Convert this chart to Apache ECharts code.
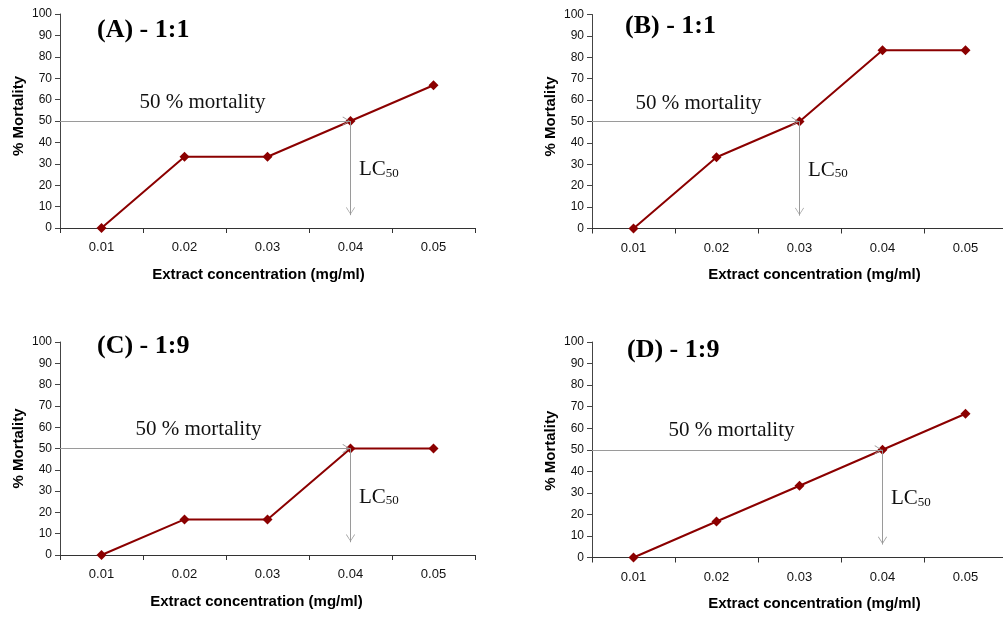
<!DOCTYPE html>
<html>
<head>
<meta charset="utf-8">
<script src="https://cdn.jsdelivr.net/npm/echarts@6/dist/echarts.min.js"></script>
<style>
html, body { margin: 0; padding: 0; background: #fff; }
#main { width: 1003px; height: 617px; }
</style>
</head>
<body>
<div id="main"></div>
<script>
// concentrations (mg/ml) and mortality (%)
var concLabels = ['0.01', '0.02', '0.03', '0.04', '0.05'];
var concValues = [0.01, 0.02, 0.03, 0.04, 0.05];
var mortalityA = [0, 33.3, 33.3, 50, 66.7];
var mortalityB = [0, 33.3, 50, 83.3, 83.3];
var mortalityC = [0, 16.7, 16.7, 50, 50];
var mortalityD = [0, 16.7, 33.3, 50, 66.7];
var panelTitles = ['(A) - 1:1', '(B) - 1:1', '(C) - 1:9', '(D) - 1:9'];
var lc50Conc = [0.04, 0.03, 0.04, 0.04];
var lc50Level = 50;
var arrowBottom = 6;

var panels = [mortalityA, mortalityB, mortalityC, mortalityD];

// layout of each panel (pixels)
var layout = [
    { grid: { left: 60, top: 14, width: 415, height: 214 }, title: [97, 17], textDx: 80, textDy: -18, nameShift: -9, yShift: 5 },
    { grid: { left: 592, top: 14.5, width: 415, height: 214 }, title: [625, 13], textDx: 44, textDy: -18, nameShift: 15, yShift: 5 },
    { grid: { left: 60, top: 342, width: 415, height: 213 }, title: [97, 333], textDx: 76, textDy: -19, nameShift: -11, yShift: 0 },
    { grid: { left: 592, top: 342, width: 415, height: 215.5 }, title: [627, 337], textDx: 77, textDy: -19, nameShift: 15, yShift: -1 }
];

var sans = '"Liberation Sans", Arial, sans-serif';
var serif = '"Liberation Serif", "Times New Roman", serif';
var lineColor = '#8b0000';
var arrowColor = '#9a9a9a';
// open arrow head, tip at the centre of its box
var arrowHead = 'path://M5,0L5,0.01M5,10L10,18L9.3,18.5L5,11.3L0.7,18.5L0,18Z';

var grids = [], xAxes = [], yAxes = [], titles = [], series = [];

function shiftPad(s) {
    return s > 0 ? [0, 0, 0, 2 * s] : [0, -2 * s, 0, 0];
}

panels.forEach(function (vals, i) {
    var L = layout[i];
    var g = L.grid;
    grids.push({ left: g.left, top: g.top, width: g.width, height: g.height, outerBoundsMode: 'none', containLabel: false });

    titles.push({
        text: panelTitles[i],
        left: L.title[0],
        top: L.title[1],
        padding: 0,
        textStyle: { fontFamily: serif, fontSize: 26, fontWeight: 'bold', color: '#000' }
    });

    // visible category axis (labels + ticks between bands)
    xAxes.push({
        type: 'category',
        gridIndex: i,
        data: concLabels,
        boundaryGap: true,
        name: 'Extract concentration (mg/ml)',
        nameLocation: 'middle',
        nameGap: 39,
        nameTextStyle: {
            fontFamily: sans, fontSize: 15, fontWeight: 'bold', color: '#000',
            padding: shiftPad(L.nameShift)
        },
        axisLine: { lineStyle: { color: '#333', width: 1 } },
        axisTick: { show: true, alignWithLabel: false, interval: 0, length: 5, lineStyle: { color: '#333' } },
        axisLabel: { fontFamily: sans, fontSize: 13, color: '#111', margin: 13, interval: 0 },
        splitLine: { show: false }
    });
    // hidden value axis used to place the points and arrows
    xAxes.push({
        type: 'value',
        gridIndex: i,
        show: false,
        min: 0.005,
        max: 0.055,
        splitLine: { show: false }
    });

    yAxes.push({
        type: 'value',
        gridIndex: i,
        min: 0,
        max: 100,
        interval: 10,
        name: '% Mortality',
        nameLocation: 'middle',
        nameGap: 34,
        nameTextStyle: {
            fontFamily: sans, fontSize: 15, fontWeight: 'bold', color: '#000',
            padding: shiftPad(L.yShift)
        },
        axisLine: { show: true, lineStyle: { color: '#444', width: 1 } },
        axisTick: { show: true, length: 5, lineStyle: { color: '#444' } },
        axisLabel: { fontFamily: sans, fontSize: 12, color: '#111', margin: 8 },
        splitLine: { show: false }
    });

    var lcX = lc50Conc[i];
    series.push({
        type: 'line',
        xAxisIndex: 2 * i + 1,
        yAxisIndex: i,
        data: concValues.map(function (c, j) { return [c, vals[j]]; }),
        symbol: 'diamond',
        symbolSize: 10,
        lineStyle: { color: lineColor, width: 2 },
        itemStyle: { color: lineColor },
        z: 3,
        markLine: {
            silent: true,
            symbol: ['none', arrowHead],
            symbolSize: [9, 16],
            label: { show: false },
            lineStyle: { color: arrowColor, width: 1, type: 'solid' },
            emphasis: { disabled: true },
            data: [
                [{ coord: [0.005, lc50Level] }, { coord: [lcX, lc50Level] }],
                [{ coord: [lcX, lc50Level] }, { coord: [lcX, arrowBottom] }]
            ]
        },
        markPoint: {
            silent: true,
            symbol: 'circle',
            symbolSize: 1,
            itemStyle: { color: 'rgba(0,0,0,0)' },
            emphasis: { disabled: true },
            data: [
                {
                    coord: [0.005, lc50Level],
                    label: {
                        show: true,
                        position: [L.textDx, L.textDy],
                        align: 'left',
                        verticalAlign: 'middle',
                        formatter: '50 % mortality',
                        fontFamily: serif,
                        fontSize: 21,
                        color: '#111'
                    }
                },
                {
                    coord: [lcX, lc50Level],
                    label: {
                        show: true,
                        position: [9, 49],
                        align: 'left',
                        verticalAlign: 'middle',
                        formatter: '{m|LC}{s|50}',
                        rich: {
                            m: { fontFamily: serif, fontSize: 21, lineHeight: 21, color: '#111' },
                            s: { fontFamily: serif, fontSize: 13, lineHeight: 10, verticalAlign: 'bottom', color: '#111' }
                        }
                    }
                }
            ]
        }
    });
});

var chart = echarts.init(document.getElementById('main'), null, { renderer: 'canvas' });
chart.setOption({
    animation: false,
    backgroundColor: '#fff',
    title: titles,
    grid: grids,
    xAxis: xAxes,
    yAxis: yAxes,
    series: series
});
</script>
</body>
</html>
